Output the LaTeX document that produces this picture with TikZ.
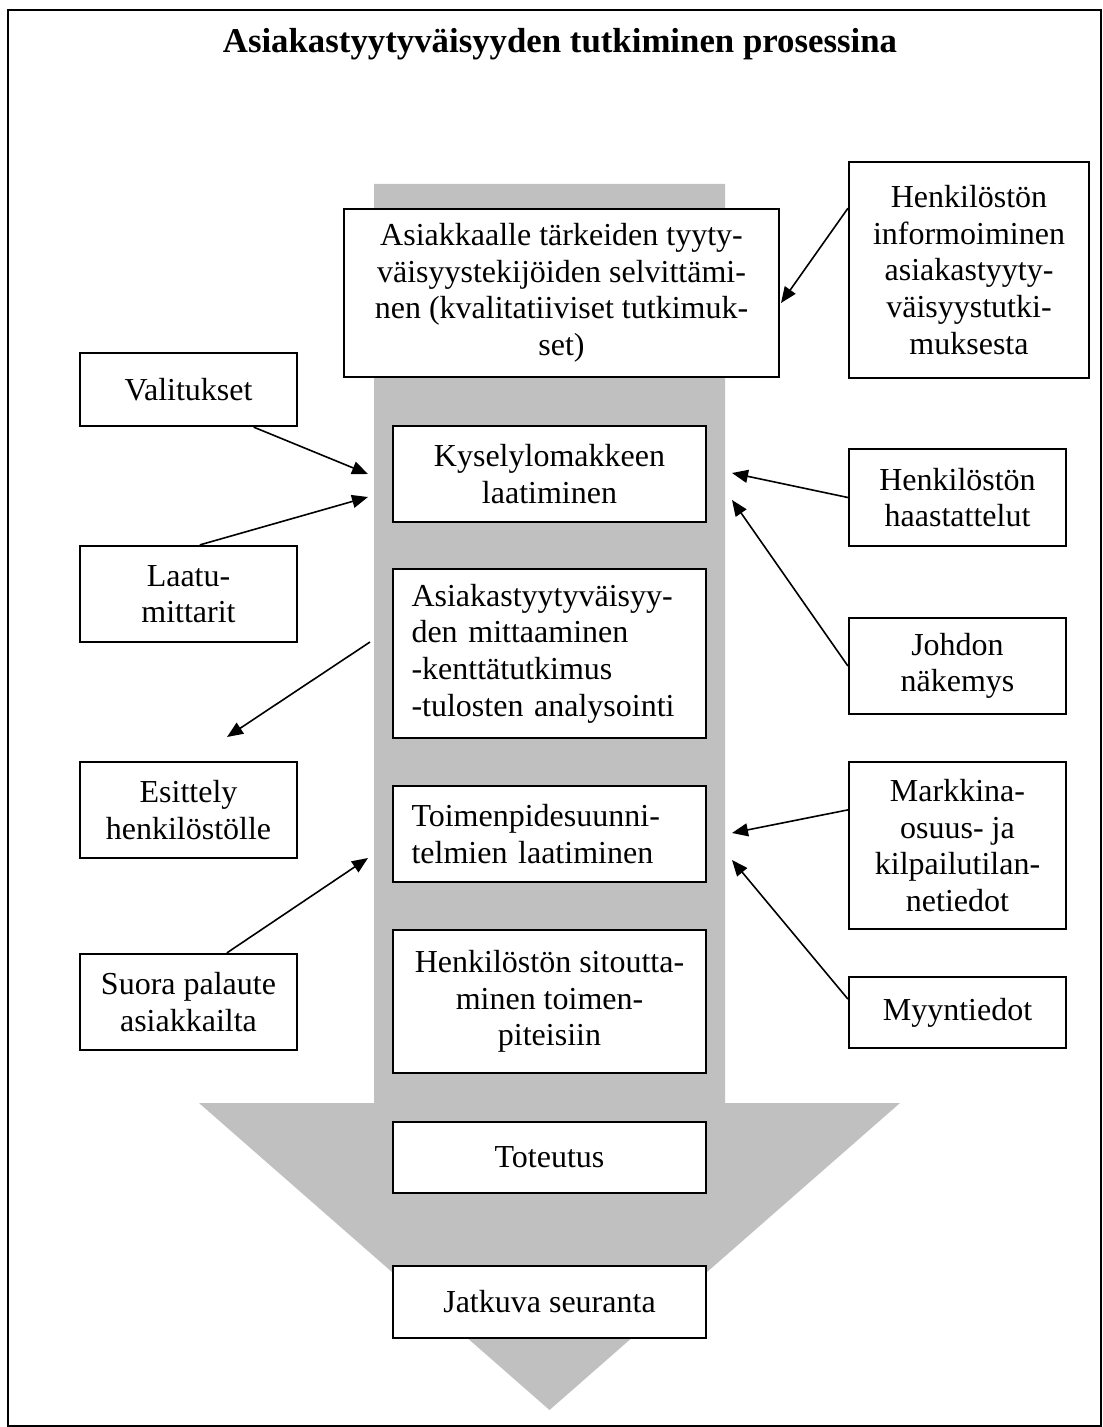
\documentclass[tikz,border=0pt]{standalone}
\usepackage{fontspec}
\setmainfont{Liberation Serif}
\usetikzlibrary{arrows.meta}
\definecolor{flowgrey}{HTML}{C0C0C0}

\begin{document}
\begin{tikzpicture}[x=0.5pt,y=-0.5pt,
    box/.style={draw,line width=1.1pt,fill=white,inner sep=2pt,align=center,
      font=\fontsize{16pt}{18.3pt}\selectfont},
    main box/.style={box,minimum width=156.5pt},
    left box/.style={box,align=left,text width=138pt,inner xsep=9.25pt},
    side box/.style={box,minimum width=108.5pt},
    link/.style={-{Triangle[length=8pt,width=6.5pt]},line width=0.8pt}]

        \useasboundingbox (0,0) rectangle (1102,1427);
        \draw[line width=1pt] (8,10) rectangle (1101,1426);

        % Big grey arrow
        \fill[flowgrey] (374,184) -- (725,184) -- (725,1103) -- (900,1103)
            -- (549.5,1410) -- (199,1103) -- (374,1103) -- cycle;

        \node[font=\fontsize{17.4pt}{20pt}\selectfont\bfseries,anchor=base] (title)
            at (560,53) {Asiakastyytyväisyyden tutkiminen prosessina};

        % Define vertices
        \node[box,minimum width=217.5pt,minimum height=84pt] (selvitys) at (561.5,293)
            {Asiakkaalle tärkeiden tyyty-\\väisyystekijöiden selvittämi-\\nen (kvalitatiiviset tutkimuk-\\set)};
        \node[box,minimum width=120pt,minimum height=108pt] (info) at (969,270)
            {Henkilöstön\\informoiminen\\asiakastyyty-\\väisyystutki-\\muksesta};
        \node[side box,minimum height=36.5pt] (valit) at (188.5,389.5) {Valitukset};
        \node[main box,minimum height=48pt] (kysely) at (549.5,474) {Kyselylomakkeen\\laatiminen};
        \node[side box,minimum height=48.5pt] (haast) at (957.5,497.5) {Henkilöstön\\haastattelut};
        \node[side box,minimum height=48pt] (laatu) at (188.5,594) {Laatu-\\mittarit};
        \node[left box,minimum height=84.5pt] (mittaus) at (549.5,653.5)
            {Asiakastyytyväisyy-\\den mittaaminen\\-kenttätutkimus\\-tulosten analysointi};
        \node[side box,minimum height=48pt] (johdon) at (957.5,666) {Johdon\\näkemys};
        \node[side box,minimum height=48pt] (esitt) at (188.5,810) {Esittely\\henkilöstölle};
        \node[left box,minimum height=48pt] (toimen) at (549.5,834) {Toimenpidesuunni-\\telmien laatiminen};
        \node[side box,minimum height=83.5pt] (markk) at (957.5,845.5)
            {Markkina-\\osuus- ja\\kilpailutilan-\\netiedot};
        \node[side box,minimum height=48pt] (suora) at (188.5,1002) {Suora palaute\\asiakkailta};
        \node[main box,minimum height=71.5pt] (sitout) at (549.5,1001.5)
            {Henkilöstön sitoutta-\\minen toimen-\\piteisiin};
        \node[side box,minimum height=35.5pt] (myynti) at (957.5,1012.5) {Myyntiedot};
        \node[main box,minimum height=35.5pt] (toteut) at (549.5,1157.5) {Toteutus};
        \node[main box,minimum height=36pt] (jatkuva) at (549.5,1302) {Jatkuva seuranta};

        % Arrow ends
        \coordinate (t1) at (781,303);
        \coordinate (t2) at (368,474);
        \coordinate (t3) at (368,497);
        \coordinate (t4) at (732,473);
        \coordinate (t5) at (732,500);
        \coordinate (m1) at (370,642);
        \coordinate (t6) at (227,737);
        \coordinate (t7) at (368,858);
        \coordinate (t8) at (732,833);
        \coordinate (t9) at (732,860);

        % Draw edges
        \path[link]
            (info.153) edge (t1)
            (valit.-30) edge (t2)
            (laatu.77) edge (t3)
            (haast.west) edge (t4)
            (johdon.west) edge (t5)
            (m1) edge (t6)
            (suora.52) edge (t7)
            (markk.162) edge (t8)
            (myynti.173) edge (t9);

\end{tikzpicture}
\end{document}
